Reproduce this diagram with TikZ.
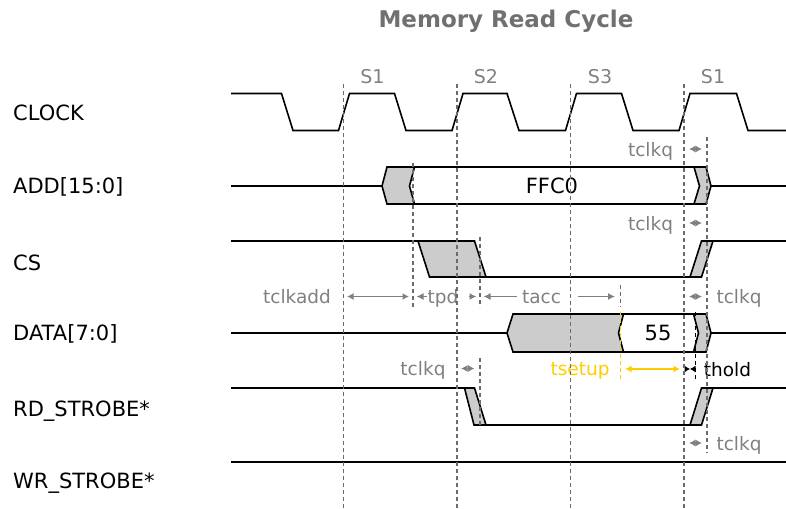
\documentclass[tikz,border=0pt]{standalone}
\usepackage{fontspec}
\setmainfont{DejaVu Sans}
\usepackage{tikz}
\usetikzlibrary{arrows.meta}
\usepackage{xcolor}
\definecolor{txtgray}{RGB}{128,128,128}
\definecolor{ttlgray}{RGB}{112,112,112}
\definecolor{busgray}{RGB}{204,204,204}
\definecolor{setupyel}{RGB}{255,204,0}

\begin{document}
\begin{tikzpicture}[x=1pt, y=-1pt,
  sig/.style={anchor=west, inner sep=0pt, text height=15.3pt, text depth=0pt, font=\fontsize{21}{25}\selectfont},
  st/.style={inner sep=0pt, text height=13.9pt, text depth=0pt, text=txtgray, font=\fontsize{19}{23}\selectfont},
  tl/.style={inner sep=0pt, text height=14pt, text depth=0pt, text=txtgray, font=\fontsize{18.5}{22}\selectfont},
  val/.style={inner sep=0pt, text height=15.3pt, text depth=0pt, font=\fontsize{21}{25}\selectfont},
  wave/.style={line width=1.6pt, line join=miter},
  chg/.style={wave, fill=busgray},
  guide/.style={dash pattern=on 4pt off 3pt, line width=1.2pt, draw=black!58},
  dim/.style={{Latex[length=6.5pt,width=7pt]}-{Latex[length=6.5pt,width=7pt]}, line width=1.3pt, txtgray},
  larr/.style={-{Latex[length=7pt,width=7pt]}, line width=1.3pt, txtgray}
]
\useasboundingbox (0,0) rectangle (786,508);
\node[font=\bfseries\fontsize{23}{27}\selectfont, text=ttlgray, inner sep=0pt, text height=16.8pt, text depth=0pt] (title) at (506,19.2) {Memory Read Cycle};
\node[st] (s1a) at (372.5,76.5) {S1};
\node[st] (s2) at (486,76.5) {S2};
\node[st] (s3) at (600,76.5) {S3};
\node[st] (s1b) at (713,76.5) {S1};
\node[sig] (clk) at (13,112.5) {CLOCK};
\node[sig] (add) at (13,185.5) {ADD[15:0]};
\node[sig] (cs) at (13,262.5) {CS};
\node[sig] (data) at (13,333) {DATA[7:0]};
\node[sig] (rd) at (13,408.5) {RD\_STROBE*};
\node[sig] (wr) at (13,480.5) {WR\_STROBE*};
\draw[wave] (231,93.5) -- (281.5,93.5) -- (293,130.5) -- (338.5,130.5) -- (349.5,93.5) -- (394.5,93.5) -- (406,130.5) -- (452,130.5) -- (463,93.5) -- (507,93.5) -- (519,130.5) -- (565.5,130.5) -- (576.5,93.5) -- (621.5,93.5) -- (633,130.5) -- (679,130.5) -- (690,93.5) -- (736.5,93.5) -- (748,130.5) -- (786,130.5);
\draw[wave] (231,186) -- (382,186) (387,167) -- (706,167) (387,204) -- (706,204) (711,186) -- (786,186);
\draw[chg] (382,186) -- (387,167) -- (414.5,167) -- (409.5,186) -- (414.5,204) -- (387,204) -- cycle;
\draw[chg] (694,167) -- (699.5,186) -- (694,204) -- (706,204) -- (711,186) -- (706,167) -- cycle;
\node[val] (ffc0) at (552,185.5) {FFC0};
\draw[wave] (231,241) -- (418,241) (486,277) -- (690,277) (713,241) -- (786,241);
\draw[chg] (418,241) -- (474.5,241) -- (486,277) -- (429.5,277) -- cycle;
\draw[chg] (690,277) -- (701.5,277) -- (713,241) -- (701.5,241) -- cycle;
\draw[wave] (231,333) -- (507,333) (623.5,314) -- (706,314) (623.5,352) -- (706,352) (711,333) -- (786,333);
\draw[chg] (507,333) -- (513,314) -- (623.5,314) -- (618.5,333) -- (623.5,352) -- (513,352) -- cycle;
\draw[chg] (693.5,314) -- (698.5,333) -- (693.5,352) -- (706,352) -- (711,333) -- (706,314) -- cycle;
\node[val] (d55) at (658,333) {55};
\draw[wave] (231,388) -- (464.5,388) (486,425) -- (690,425) (713,388) -- (786,388);
\draw[chg] (464.5,388) -- (474.5,388) -- (486,425) -- (474,425) -- cycle;
\draw[chg] (690,425) -- (701.5,425) -- (713,388) -- (701.5,388) -- cycle;
\draw[wave] (231,462) -- (786,462);
\node[tl] (tclkq1) at (650.5,149) {tclkq};
\node[tl] (tclkq2) at (650.5,223) {tclkq};
\node[tl] (tclkadd) at (297,296.5) {tclkadd};
\node[tl, fill=white] (tpd) at (443,296.5) {tpd};
\node[tl] (tacc) at (541.5,296.5) {tacc};
\node[tl] (tclkq3) at (739,296.5) {tclkq};
\node[tl] (tclkq4) at (423,368.5) {tclkq};
\node[tl, text=setupyel] (tsetup) at (580,368.5) {tsetup};
\node[tl, text=black] (thold) at (727.5,369) {thold};
\node[tl] (tclkq5) at (739,443) {tclkq};
\coordinate (q1a) at (689,149);
\coordinate (q1b) at (702,149);
\coordinate (q2a) at (689,223);
\coordinate (q2b) at (702,223);
\coordinate (q3a) at (689,296.5);
\coordinate (q3b) at (702,296.5);
\coordinate (q4a) at (461,368.5);
\coordinate (q4b) at (474.5,368.5);
\coordinate (q5a) at (689,443);
\coordinate (q5b) at (702,443);
\coordinate (ka) at (347,296.5);
\coordinate (kb) at (409,296.5);
\coordinate (pa) at (416.5,296.5);
\coordinate (pb) at (476.5,296.5);
\coordinate (aa) at (483.5,296.5);
\coordinate (ab) at (615,296.5);
\coordinate (sua) at (625,369);
\coordinate (sub) at (680,369);
\coordinate (ha) at (684.5,369);
\coordinate (hm) at (690,369);
\coordinate (hb) at (695.5,369);
\draw[dim] (q1a) -- (q1b);
\draw[dim] (q2a) -- (q2b);
\draw[dim] (q3a) -- (q3b);
\draw[dim] (q4a) -- (q4b);
\draw[dim] (q5a) -- (q5b);
\draw[dim] (ka) -- (kb);
\draw[larr] (tpd) -- (pa);
\draw[larr, shorten <=10pt] (tpd) -- (pb);
\draw[larr, shorten <=5pt] (tacc) -- (aa);
\draw[larr, shorten <=17pt] (tacc) -- (ab);
\draw[dim, setupyel] (sua) -- (sub);
\draw[larr, black, -{Latex[length=5.5pt,width=7pt]}] (ha) -- (hm);
\draw[larr, black, -{Latex[length=5.5pt,width=7pt]}] (hb) -- (hm);
\foreach \x in {343.5,457,570.5,684} \draw[guide] (\x,84) -- (\x,508);
\draw[guide] (413,163) -- (413,307);
\draw[guide] (480,237) -- (480,307) (480,358) -- (480,428);
\draw[guide] (620.5,285) -- (620.5,307);
\draw[guide, draw=setupyel] (620.5,312) -- (620.5,380);
\draw[guide] (707,137) -- (707,453);
\draw[guide, draw=black] (695.5,312) -- (695.5,380);
\end{tikzpicture}
\end{document}
